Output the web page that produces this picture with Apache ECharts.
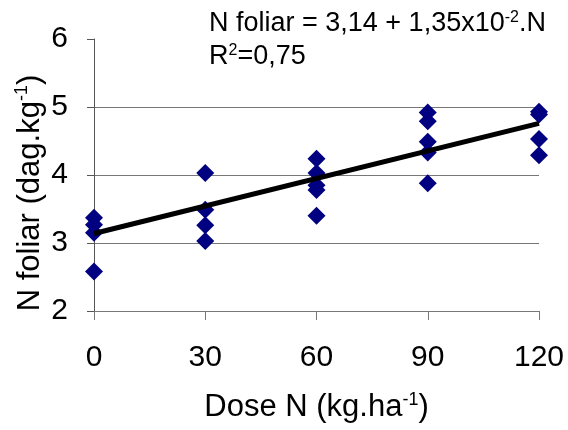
<!DOCTYPE html>
<html>
<head>
<meta charset="utf-8">
<script src="https://cdn.jsdelivr.net/npm/echarts@6/dist/echarts.min.js"></script>
<style>
  html, body { margin: 0; padding: 0; background: #fff; }
  #chart { width: 568px; height: 430px; }
</style>
</head>
<body>
<div id="chart"></div>
<script>
// dose N (kg/ha) and leaf N (dag/kg)
const dose0 = [3.37, 3.27, 3.15, 2.58];
const dose30 = [4.03, 3.49, 3.26, 3.03];
const dose60 = [4.24, 4.03, 3.85, 3.78, 3.40];
const dose90 = [4.92, 4.79, 4.49, 4.33, 3.88];
const dose120 = [4.93, 4.89, 4.53, 4.29];
const doses = [0, 30, 60, 90, 120];
const fitLine = [[0, 3.14], [120, 4.76]];

const groups = [dose0, dose30, dose60, dose90, dose120];
const points = [];
groups.forEach((vals, i) => {
  vals.forEach(v => points.push([doses[i], v]));
});

const font = 'Liberation Sans, Arial, sans-serif';
const chart = echarts.init(document.getElementById('chart'));

chart.setOption({
  animation: false,
  backgroundColor: '#fff',
  grid: { left: 94, right: 29, top: 39, bottom: 119 },
  xAxis: {
    type: 'value',
    min: 0,
    max: 120,
    interval: 30,
    name: 'Dose N (kg.ha{sup|-1})',
    nameLocation: 'middle',
    nameGap: 80,
    nameTextStyle: {
      fontFamily: font, fontSize: 31, color: '#000',
      rich: { sup: { fontFamily: font, fontSize: 18, color: '#000', verticalAlign: 'top', padding: [0, 0, 15, 0] } }
    },
    axisLine: { lineStyle: { color: '#777', width: 1 } },
    axisTick: { length: 9, lineStyle: { color: '#777' } },
    axisLabel: { fontFamily: font, fontSize: 30, color: '#000', margin: 32 },
    splitLine: { show: false }
  },
  yAxis: {
    type: 'value',
    min: 2,
    max: 6,
    interval: 1,
    axisLine: { show: true, lineStyle: { color: '#555', width: 1 } },
    axisTick: { show: true, length: 7, lineStyle: { color: '#555' } },
    axisLabel: { fontFamily: font, fontSize: 30, color: '#000', margin: 26 },
    splitLine: { show: true, showMaxLine: false, lineStyle: { color: '#777', width: 1 } }
  },
  graphic: [
    {
      type: 'text',
      x: 30,
      y: 193,
      rotation: Math.PI / 2,
      style: {
        text: 'N foliar (dag.kg{sup|-1})',
        font: '31px ' + font,
        fill: '#000',
        align: 'center',
        verticalAlign: 'middle',
        rich: { sup: { fontSize: 18, fontFamily: font, fill: '#000', padding: [0, 0, 15, 0] } }
      }
    },
    {
      type: 'text',
      left: 209,
      top: 7,
      style: {
        text: 'N foliar = 3,14 + 1,35x10{sup|-2}.N\nR{sup|2}=0,75',
        font: '27px ' + font,
        fill: '#000',
        lineHeight: 33,
        rich: { sup: { fontSize: 16, fontFamily: font, fill: '#000', padding: [0, 0, 12, 0] } }
      }
    }
  ],
  series: [
    {
      type: 'scatter',
      data: points,
      symbol: 'diamond',
      symbolSize: 18,
      itemStyle: { color: '#000080', opacity: 1 },
      z: 2
    },
    {
      type: 'line',
      data: fitLine,
      showSymbol: false,
      symbol: 'none',
      lineStyle: { color: '#000', width: 5 },
      z: 3
    }
  ]
});
</script>
</body>
</html>
